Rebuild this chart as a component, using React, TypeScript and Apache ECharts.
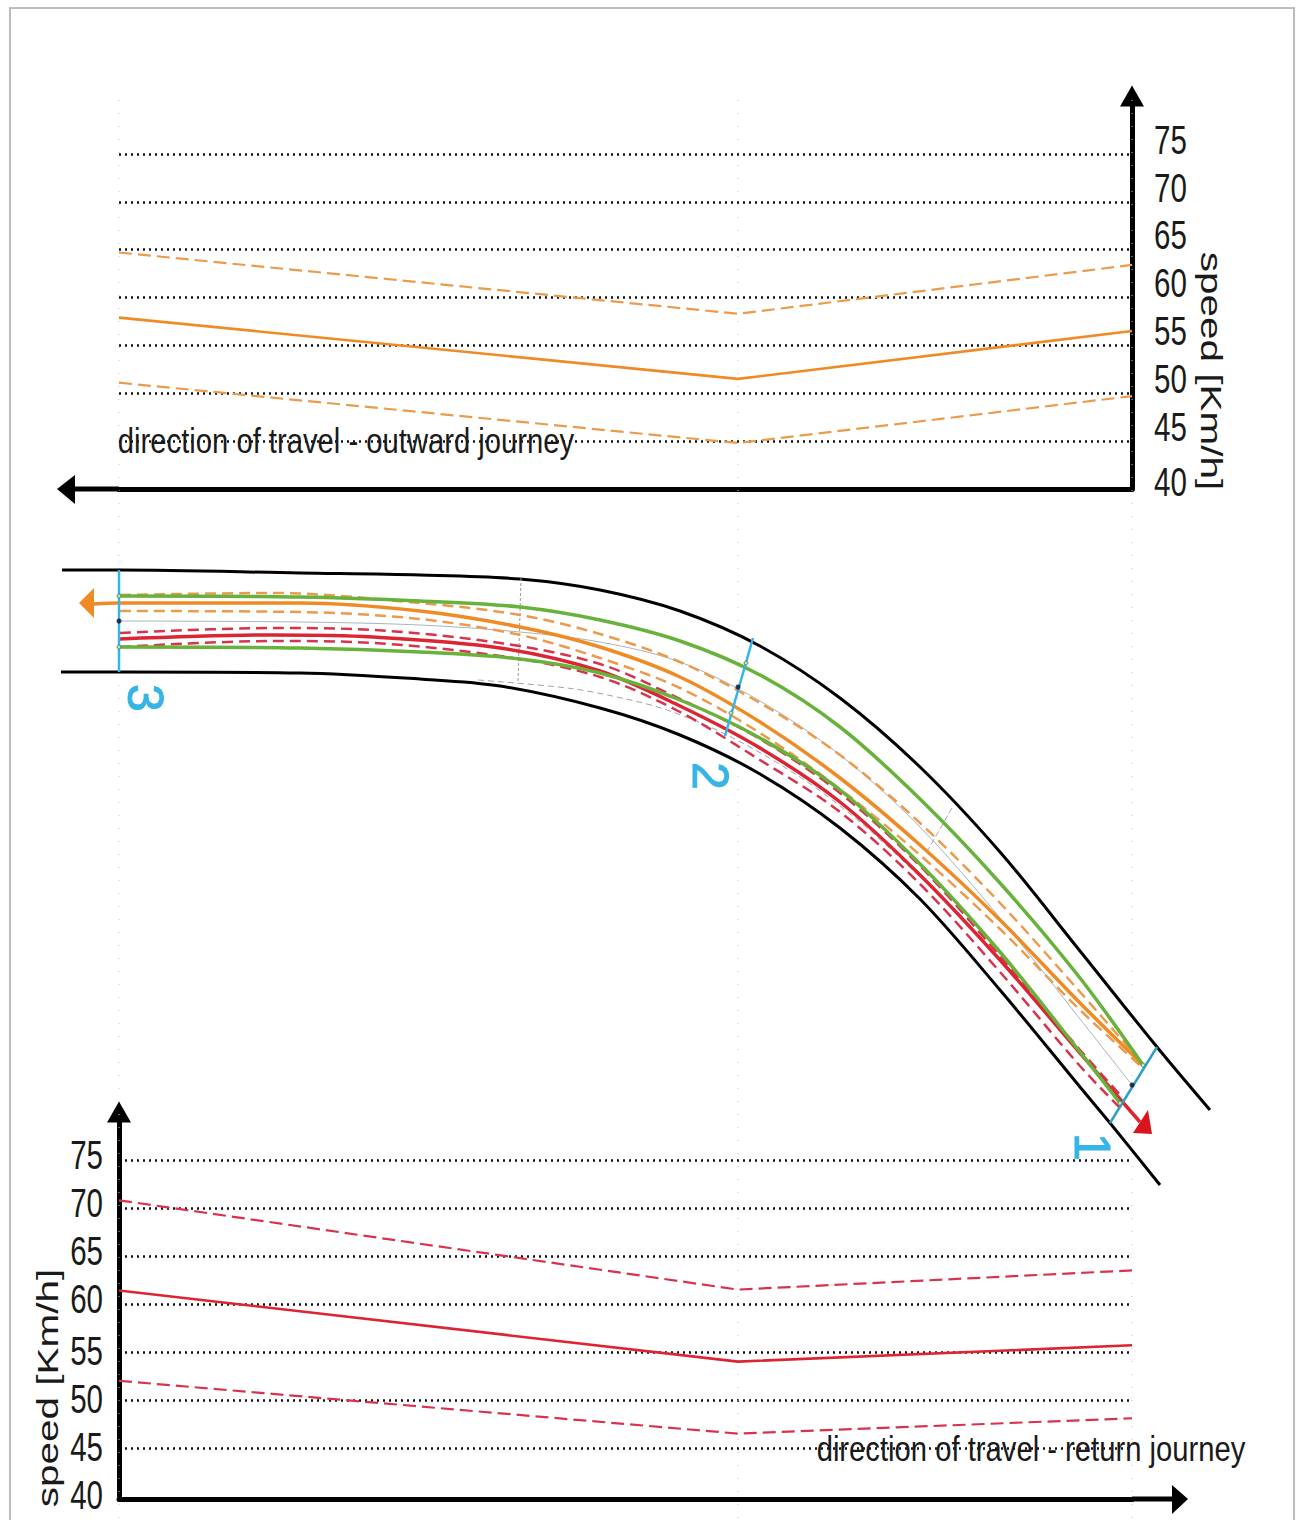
import React, { useEffect, useRef } from "react";
import * as echarts from "echarts";

// speed profiles: [station position along the road, speed km/h]
const stations = [0, 619, 1013];
const speedTicks = [40, 45, 50, 55, 60, 65, 70, 75];
const outwardMean = [57.9, 51.5, 56.5];
const outwardUpper = [64.7, 58.3, 63.4];
const outwardLower = [51.1, 44.8, 49.7];
const returnMean = [61.4, 54, 55.7];
const returnUpper = [70.8, 61.5, 63.5];
const returnLower = [52, 46.5, 48.1];

// plan view of the road, in picture plan coordinates
const edgeUpper = [[62,570],[120,570],[300,573],[420,575],[520,579],[600,590],[680,611],[760,646],[840,698],[920,767],[1000,852],[1080,951],[1157,1047],[1210,1110]];
const edgeLower = [[61,672],[120,672],[300,673],[420,679],[500,686],[600,708],[680,735],[760,774],[840,828],[920,899],[1000,990],[1080,1087],[1110,1123],[1160,1185]];
const greenUpper = [[120,596],[300,597],[420,601],[520,607],[600,620],[680,641],[760,675],[840,727],[920,799],[1000,883],[1080,978],[1143,1065]];
const greenLower = [[120,647],[300,648],[420,652],[520,659],[600,673],[680,700],[760,738],[840,790],[920,864],[1000,952],[1080,1052],[1120,1103]];
const orangeMean = [[93,604],[120,603],[300,603],[420,611],[520,627],[600,647],[680,677],[760,722],[840,778],[920,845],[1000,920],[1080,1003],[1143,1065]];
const orangeUpper = [[120,595],[273,593],[420,603],[520,615],[600,634],[680,662],[760,703],[840,755],[920,823],[1000,903],[1080,992],[1143,1064]];
const orangeLower = [[120,611],[300,612],[420,619],[520,635],[600,658],[680,688],[760,733],[840,789],[920,855],[1000,929],[1080,1010],[1143,1068]];
const centreLine = [[120,621],[300,622],[420,625],[520,632],[600,642],[680,662],[760,701],[840,755],[920,827],[1000,918],[1080,1019],[1132,1085]];
const redMean = [[120,639],[273,635],[373,637],[500,648],[600,671],[680,706],[760,748],[840,802],[920,875],[1000,960],[1080,1053],[1140,1122]];
const redUpper = [[120,633],[273,628],[373,630],[500,643],[600,664],[680,699],[760,739],[840,793],[920,866],[1000,956],[1080,1050],[1123,1098]];
const redLower = [[120,647],[273,641],[373,643],[507,657],[600,677],[680,712],[760,760],[840,812],[920,884],[1000,972],[1080,1066],[1120,1108]];
const laneGuide = [[478,680],[567,688],[617,697],[667,710],[727,735],[800,777],[860,822],[923,880]];
const guideTick1 = [[521,578],[518,683]];
const guideTick2 = [[952,808],[925,855]];
const section1 = [[1157,1047],[1110,1123]];
const section2 = [[753,638],[725,736]];
const section3 = [[119,570],[119,672]];
const sectionCentres = [[119,621],[738,687],[1132,1085]];
const laneEnds = [[119,596],[119,647],[746,663],[731,713],[1143,1065],[1120,1103]];
const stationGuides = [119, 738, 1132];

const BLUE = "#35b5e5";
const ORANGE = "#f08a24";
const ORANGE_D = "#ec9a4c";
const RED = "#dc2433";
const RED_D = "#d8334c";
const GREEN = "#68b23c";
const INK = "#1a1a1a";
const SANS = '"Liberation Sans", sans-serif';

const plan = (data: number[][], color: string, width: number, dash?: number[], z = 3) => ({
  type: "line", xAxisIndex: 0, yAxisIndex: 0, data, smooth: 0.33, showSymbol: false, clip: false, silent: true, z,
  lineStyle: { color, width, type: dash || "solid", cap: "butt" },
});
const straight = (data: number[][], color: string, width: number, dash?: number[], z = 3) => ({
  ...plan(data, color, width, dash, z), smooth: false,
});
const profile = (idx: number, vals: number[], color: string, dash?: number[]) => ({
  type: "line", xAxisIndex: idx, yAxisIndex: idx, data: vals.map((v, i) => [stations[i], v]), showSymbol: false, clip: false, silent: true, z: 4,
  lineStyle: { color, width: dash ? 2.2 : 2.6, type: dash || "solid" },
});

const speedAxis = (gridIndex: number, position: string) => ({
  type: "value", gridIndex, position, min: 40, max: 80, interval: 5,
  axisLine: { show: true, onZero: false, symbol: ["none", "triangle"], symbolSize: [24, 21], symbolOffset: [0, gridIndex === 1 ? 10 : 0], lineStyle: { color: "#000", width: 5 } },
  axisTick: { show: false },
  axisLabel: { show: false },
  splitLine: { show: true, showMinLine: false, showMaxLine: false, lineStyle: { color: "#111", width: 2.5, type: [2, 4] } },
});
const stationAxis = (gridIndex: number, offset: number) => ({
  type: "value", gridIndex, min: 0, max: 1013, offset, position: "bottom",
  axisLine: { show: true, onZero: false, lineStyle: { color: "#000", width: 5 } },
  axisTick: { show: false }, axisLabel: { show: false }, splitLine: { show: false },
});

const noteText = (text: string, x: number, y: number, o: any = {}) => ({
  type: "text", x, y, rotation: o.rotation || 0, scaleX: o.scaleX || 1, z: 20, silent: true,
  style: {
    text, fill: o.fill || INK, font: `${o.size || 35}px ${SANS}`, align: o.align || "center", verticalAlign: "middle",
    stroke: o.stroke || "transparent", lineWidth: o.stroke ? 1 : 0,
  },
});

export default function App() {
  const ref = useRef<HTMLDivElement>(null);
  useEffect(() => {
    const chart = echarts.init(ref.current!, null, { renderer: "svg" });
    const guides = stationGuides.map((x) => straight([[x, 100], [x, 1520]], "#c4c4c4", 1, [1, 12], 1));
    chart.setOption({
      animation: false,
      backgroundColor: "#fff",
      grid: [
        { left: 0, top: 0, width: 1300, height: 1520 },
        { left: 119, top: 106, width: 1013, height: 383 },
        { left: 119, top: 1112, width: 1013, height: 384 },
      ],
      xAxis: [
        { type: "value", gridIndex: 0, min: 0, max: 1300, show: false },
        stationAxis(1, 0),
        stationAxis(2, 3),
      ],
      yAxis: [
        { type: "value", gridIndex: 0, min: 0, max: 1520, inverse: true, show: false },
        speedAxis(1, "right"),
        speedAxis(2, "left"),
      ],
      series: [
        ...guides,
        plan(edgeUpper, "#000", 3),
        plan(edgeLower, "#000", 3),
        plan(centreLine, "#a9b4bb", 1),
        plan(laneGuide, "#9aa4ad", 1, [6, 4]),
        straight(guideTick1, "#999", 1, [3, 2]),
        straight(guideTick2, "#a9a4b4", 1, [6, 3]),
        plan(orangeUpper, ORANGE_D, 2.5, [11, 6]),
        plan(orangeLower, ORANGE_D, 2.5, [11, 6]),
        plan(orangeMean, ORANGE, 3.5),
        plan(redUpper, RED_D, 2.5, [11, 6]),
        plan(redLower, RED_D, 2.5, [11, 6]),
        plan(redMean, RED, 3.5),
        plan(greenUpper, GREEN, 3.5, undefined, 4),
        plan(greenLower, GREEN, 3.5, undefined, 4),
        straight(section1, "#2f9fc9", 2.5, undefined, 5),
        straight(section2, BLUE, 2.5, undefined, 5),
        straight(section3, BLUE, 2.5, undefined, 5),
        {
          type: "scatter", xAxisIndex: 0, yAxisIndex: 0, data: laneEnds, symbolSize: 4, silent: true, z: 6,
          itemStyle: { color: "#dfe9d8", borderColor: "#3d7a3a", borderWidth: 1 },
        },
        {
          type: "scatter", xAxisIndex: 0, yAxisIndex: 0, data: sectionCentres, symbolSize: 5, silent: true, z: 6,
          itemStyle: { color: "#0a0a1e" },
        },
        profile(1, outwardUpper, ORANGE_D, [13, 6]),
        profile(1, outwardMean, ORANGE),
        profile(1, outwardLower, ORANGE_D, [13, 6]),
        profile(2, returnUpper, RED_D, [13, 6]),
        profile(2, returnMean, RED),
        profile(2, returnLower, RED_D, [13, 6]),
      ],
    });

    // tick labels are condensed in the reference, so they are placed from the axes' own scales
    const topTicks = speedTicks.map((v) => {
      const y = chart.convertToPixel({ yAxisIndex: 1 }, v) as number;
      return noteText(String(v), 1154, y + (v === 40 ? -7 : -14), { size: 41, scaleX: 0.72, align: "left" });
    });
    const bottomTicks = speedTicks.map((v) => {
      const y = chart.convertToPixel({ yAxisIndex: 2 }, v) as number;
      return noteText(String(v), 103, y + (v >= 60 ? -5 : v === 40 ? -1 : -1), { size: 41, scaleX: 0.72, align: "right" });
    });

    chart.setOption({
      graphic: [
        { type: "rect", z: -10, silent: true, shape: { x: 10, y: 8, width: 1284, height: 1540 }, style: { fill: "none", stroke: "#bdbdbd", lineWidth: 2 } },
        { type: "line", z: 5, silent: true, shape: { x1: 119, y1: 489, x2: 72, y2: 489 }, style: { stroke: "#000", lineWidth: 5 } },
        { type: "polygon", z: 5, silent: true, shape: { points: [[57, 489], [75, 475], [75, 504]] }, style: { fill: "#000" } },
        { type: "line", z: 5, silent: true, shape: { x1: 1132, y1: 1499, x2: 1175, y2: 1499 }, style: { stroke: "#000", lineWidth: 5 } },
        { type: "polygon", z: 5, silent: true, shape: { points: [[1188, 1499], [1172, 1485], [1172, 1514]] }, style: { fill: "#000" } },
        { type: "polygon", z: 7, silent: true, shape: { points: [[79, 603], [94, 588], [94, 618]] }, style: { fill: ORANGE } },
        { type: "polygon", z: 7, silent: true, shape: { points: [[1148, 1110], [1133, 1133], [1152, 1134]] }, style: { fill: "#d9141c" } },
        ...topTicks,
        ...bottomTicks,
        noteText("direction of travel - outward journey", 346, 441, { scaleX: 0.835 }),
        noteText("direction of travel - return journey", 1031, 1449, { scaleX: 0.835 }),
        noteText("speed [Km/h]", 1211, 371, { rotation: -Math.PI / 2, size: 30, scaleX: 1.35 }),
        noteText("speed [Km/h]", 48, 1388, { rotation: Math.PI / 2, size: 30, scaleX: 1.35 }),
        noteText("1", 1092, 1147, { rotation: -Math.PI / 2, size: 50, fill: BLUE, stroke: BLUE }),
        noteText("2", 710, 776, { rotation: -Math.PI / 2, size: 50, fill: BLUE, stroke: BLUE }),
        noteText("3", 145, 698, { rotation: -Math.PI / 2, size: 50, fill: BLUE, stroke: BLUE }),
      ],
    });
    return () => chart.dispose();
  }, []);
  return <div ref={ref} style={{ position: "absolute", left: 0, top: 0, width: 1300, height: 1520 }} />;
}
